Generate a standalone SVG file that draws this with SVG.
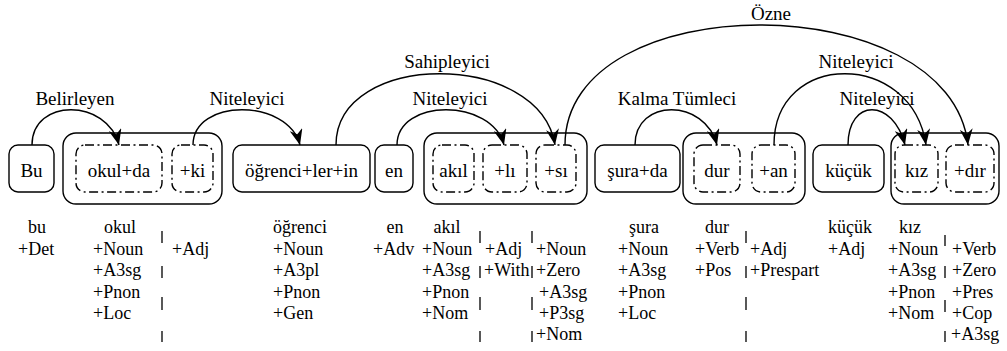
<svg xmlns="http://www.w3.org/2000/svg" width="1007" height="351" viewBox="0 0 1007 351">
<defs>
<style>
.t{font-family:"Liberation Serif","Times New Roman",serif;font-size:19px;fill:#000}
.k{font-size:18px}
.m{text-anchor:middle}
.b{fill:none;stroke:#000;stroke-width:1.4}
.d{fill:none;stroke:#000;stroke-width:1.4;stroke-dasharray:9 3.5 2 3.5}
.a{fill:none;stroke:#000;stroke-width:1.4;marker-end:url(#ah)}
.s{fill:none;stroke:#000;stroke-width:1.3}
</style>
<marker id="ah" markerUnits="userSpaceOnUse" viewBox="0 0 16 13" refX="16" refY="6.5" markerWidth="16" markerHeight="13" orient="auto">
<path d="M0,0 L16,6.5 L0,13 L5,6.5 z" fill="#000"/>
</marker>
</defs>
<rect width="1007" height="351" fill="#fff"/>

<g id="nodes">
<g id="n-bu"><rect class="b" x="9" y="145" width="45" height="47" rx="9"/><text class="t m" x="31.5" y="177">Bu</text></g>

<g id="w-okulda">
<rect class="b" x="63" y="133" width="159" height="71" rx="13"/>
<g id="n-okulda"><rect class="d" x="76" y="145" width="86" height="47" rx="9"/><text class="t m" x="119" y="177">okul+da</text></g>
<g id="n-ki"><rect class="d" x="172" y="145" width="41" height="47" rx="9"/><text class="t m" x="192.5" y="177">+ki</text></g>
</g>

<g id="n-ogrenci"><rect class="b" x="233" y="145" width="137" height="47" rx="9"/><text class="t m" x="301.5" y="177">öğrenci+ler+in</text></g>
<g id="n-en"><rect class="b" x="375" y="145" width="38" height="47" rx="9"/><text class="t m" x="394" y="177">en</text></g>

<g id="w-akilli">
<rect class="b" x="424" y="133" width="163" height="71" rx="13"/>
<g id="n-akil"><rect class="d" x="433" y="145" width="41" height="47" rx="9"/><text class="t m" x="453.5" y="177">akıl</text></g>
<g id="n-li"><rect class="d" x="483" y="145" width="44" height="47" rx="9"/><text class="t m" x="505" y="177">+lı</text></g>
<g id="n-si"><rect class="d" x="536" y="145" width="40" height="47" rx="9"/><text class="t m" x="556" y="177">+sı</text></g>
</g>

<g id="n-surada"><rect class="b" x="595" y="145" width="85" height="47" rx="9"/><text class="t m" x="637.5" y="177">şura+da</text></g>

<g id="w-duran">
<rect class="b" x="683" y="133" width="122" height="71" rx="13"/>
<g id="n-dur"><rect class="d" x="694" y="145" width="46" height="47" rx="9"/><text class="t m" x="717" y="177">dur</text></g>
<g id="n-an"><rect class="d" x="752" y="145" width="43" height="47" rx="9"/><text class="t m" x="773.5" y="177">+an</text></g>
</g>

<g id="n-kucuk"><rect class="b" x="813" y="145" width="71" height="47" rx="9"/><text class="t m" x="848.5" y="177">küçük</text></g>

<g id="w-kizdir">
<rect class="b" x="891" y="133" width="108" height="71" rx="13"/>
<g id="n-kiz"><rect class="d" x="895" y="145" width="43" height="47" rx="9"/><text class="t m" x="916.5" y="177">kız</text></g>
<g id="n-dir"><rect class="d" x="946" y="145" width="48" height="47" rx="9"/><text class="t m" x="970" y="177">+dır</text></g>
</g>
</g>

<g id="connectors">
<path class="a" d="M32,145 C32,98 107,98 119,145"/>
<text class="t m" x="75" y="105">Belirleyen</text>
<path class="a" d="M193,145 C193,98 288,98 300,145"/>
<text class="t m" x="247" y="105">Niteleyici</text>
<path class="a" d="M336,145 C336,50 540,50 555,145"/>
<text class="t m" x="447" y="68">Sahipleyici</text>
<path class="a" d="M397,145 C397,98 492,98 504,145"/>
<text class="t m" x="450" y="105">Niteleyici</text>
<path class="a" d="M565,145 C565,-15 950,-15 968,145"/>
<text class="t m" x="771" y="20">Özne</text>
<path class="a" d="M635,145 C635,98 705,98 717,145"/>
<text class="t m" x="677" y="105">Kalma Tümleci</text>
<path class="a" d="M774,145 C774,50 912,50 926,145"/>
<text class="t m" x="856" y="68">Niteleyici</text>
<path class="a" d="M848,145 C848,98 893,98 905,145"/>
<text class="t m" x="877" y="105">Niteleyici</text>
</g>

<g id="analyses">
<text class="t k m" x="37" y="233">bu</text>
<text class="t k" x="18" y="255">+Det</text>

<text class="t k m" x="120" y="233">okul</text>
<text class="t k" x="93" y="255">+Noun</text>
<text class="t k" x="93" y="276">+A3sg</text>
<text class="t k" x="93" y="298">+Pnon</text>
<text class="t k" x="93" y="319">+Loc</text>
<text class="t k" x="172" y="255">+Adj</text>

<text class="t k" x="273" y="233">öğrenci</text>
<text class="t k" x="273" y="255">+Noun</text>
<text class="t k" x="273" y="276">+A3pl</text>
<text class="t k" x="273" y="298">+Pnon</text>
<text class="t k" x="273" y="319">+Gen</text>

<text class="t k m" x="395" y="233">en</text>
<text class="t k" x="373" y="255">+Adv</text>

<text class="t k m" x="447" y="233">akıl</text>
<text class="t k" x="422" y="255">+Noun</text>
<text class="t k" x="422" y="276">+A3sg</text>
<text class="t k" x="422" y="298">+Pnon</text>
<text class="t k" x="422" y="319">+Nom</text>
<text class="t k" x="485" y="255">+Adj</text>
<text class="t k" x="484" y="276">+With</text>
<text class="t k" x="536" y="255">+Noun</text>
<text class="t k" x="536" y="276">+Zero</text>
<text class="t k" x="539" y="298">+A3sg</text>
<text class="t k" x="539" y="319">+P3sg</text>
<text class="t k" x="536" y="340">+Nom</text>

<text class="t k m" x="644" y="233">şura</text>
<text class="t k" x="618" y="255">+Noun</text>
<text class="t k" x="618" y="276">+A3sg</text>
<text class="t k" x="618" y="298">+Pnon</text>
<text class="t k" x="618" y="319">+Loc</text>

<text class="t k m" x="717" y="233">dur</text>
<text class="t k" x="695" y="255">+Verb</text>
<text class="t k" x="695" y="276">+Pos</text>
<text class="t k" x="750" y="255">+Adj</text>
<text class="t k" x="750" y="276">+Prespart</text>

<text class="t k m" x="850" y="233">küçük</text>
<text class="t k" x="828" y="255">+Adj</text>

<text class="t k m" x="910" y="233">kız</text>
<text class="t k" x="888" y="255">+Noun</text>
<text class="t k" x="888" y="276">+A3sg</text>
<text class="t k" x="888" y="298">+Pnon</text>
<text class="t k" x="888" y="319">+Nom</text>
<text class="t k" x="952" y="255">+Verb</text>
<text class="t k" x="952" y="276">+Zero</text>
<text class="t k" x="952" y="298">+Pres</text>
<text class="t k" x="952" y="319">+Cop</text>
<text class="t k" x="951" y="340">+A3sg</text>

<path class="s" d="M162,231V243M162,266V278M162,297V310M162,331V342
M480,231V243M480,266V278M480,297V310M480,331V342
M532,231V243M532,266V278M532,297V310M532,331V342
M746,231V243M746,266V278M746,297V310M746,331V342
M945,235V246M945,266V278M945,300V312M945,331V342"/>
</g>
</svg>
